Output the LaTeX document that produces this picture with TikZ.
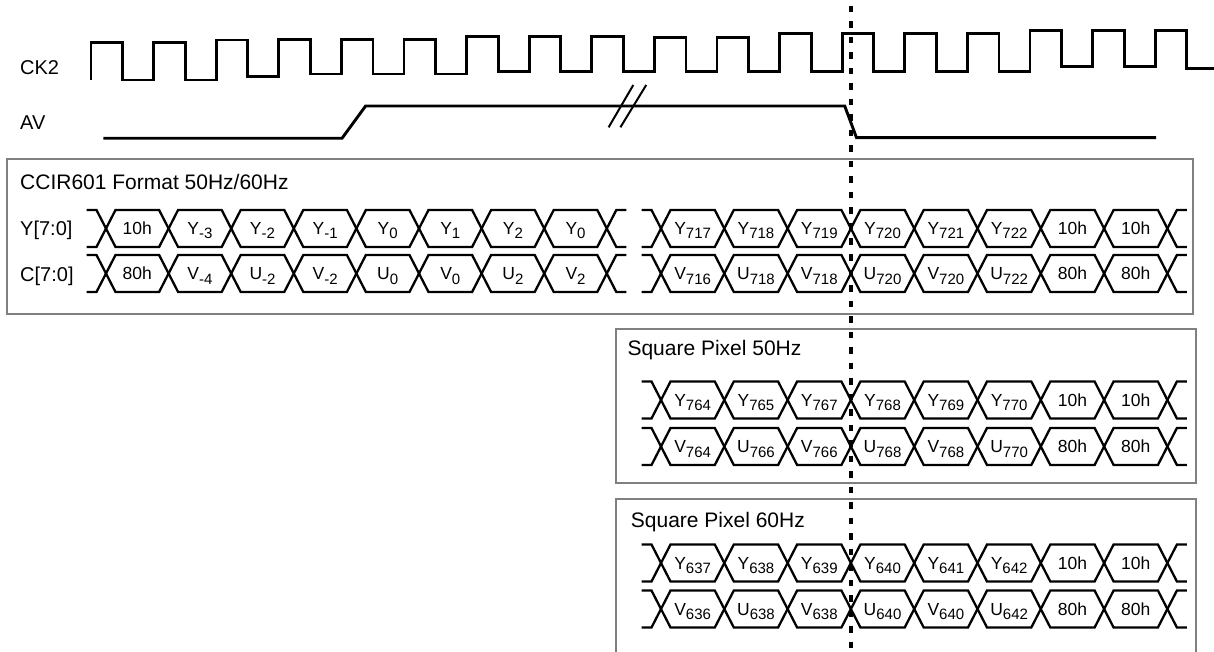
\documentclass[tikz,border=0pt]{standalone}
\usepackage{fontspec}
\setmainfont{Liberation Sans}
\definecolor{boxgray}{RGB}{128,128,128}

% lowered index inside a bus cell
\newcommand{\ix}[1]{\raisebox{-4.5pt}{\fontsize{15}{15}\selectfont #1}}

% one bus row of eight cells: [period]{name}{first crossing x}{centre y}{cell texts}
\newcommand{\busrow}[5][63.3]{%
  \draw[bus] ({#3-19.5},{#4-18.5}) -- ({#3-9.5},{#4-18.5}) -- (#3,#4)
             -- ({#3-9.5},{#4+18.5}) -- ({#3-19.5},{#4+18.5});
  \foreach \txt [count=\k from 0] in {#5} {
    \pgfmathsetmacro{\xa}{#3+#1*\k}
    \pgfmathsetmacro{\xb}{\xa+#1}
    \draw[bus] (\xa,#4) -- ({\xa+9.5},{#4-18.5}) -- ({\xb-9.5},{#4-18.5}) -- (\xb,#4)
               -- ({\xb-9.5},{#4+18.5}) -- ({\xa+9.5},{#4+18.5}) -- cycle;
    \node[cell] (#2\k) at ({(\xa+\xb)/2},{#4+6}) {\txt};
  }
  \pgfmathsetmacro{\xe}{#3+8*#1}
  \draw[bus] ({\xe+19.5},{#4-18.5}) -- ({\xe+9.5},{#4-18.5}) -- (\xe,#4)
             -- ({\xe+9.5},{#4+18.5}) -- ({\xe+19.5},{#4+18.5});
}

\begin{document}
\begin{tikzpicture}[x=1pt, y=-1pt,
    wave/.style={line width=2.9pt, line join=miter},
    bus/.style={line width=2.3pt, line join=miter},
    frame/.style={draw=boxgray, line width=2pt},
    sig/.style={font=\fontsize{20}{24}\selectfont, anchor=base west, inner sep=0pt},
    title/.style={font=\fontsize{21}{25}\selectfont, anchor=base west, inner sep=0pt},
    cell/.style={font=\fontsize{17.5}{20}\selectfont, anchor=base, inner sep=0pt}]
  \useasboundingbox (0,0) rectangle (1214,652);

  % clock and active video
  \node[sig] (ck) at (20,75) {CK2};
  \draw[wave] (91,80) foreach \i/\hi/\lo in {0/42.7/80, 1/42.7/80, 2/40/76.7, 3/39.3/74,
      4/39.3/74, 5/39.3/74, 6/36.7/71.7, 7/36.7/71.7, 8/36.7/71.7, 9/37.3/71.7,
      10/37.3/71.7, 11/33.3/71.7, 12/33.3/71.7, 13/33.3/71.7, 14/33.3/71.7,
      15/30.7/66.7, 16/30.7/66.7, 17/30.7/68.3}
    { -- ({91+62.6*\i},\hi) -- ({122.6+62.6*\i},\hi) -- ({122.6+62.6*\i},\lo) -- ({153.6+62.6*\i},\lo) };
  \node[sig] (av) at (20,130) {AV};
  \draw[wave] (103.3,138.3) -- (342,138.3) -- (365.6,106) -- (844.7,106)
    -- (856.5,137.7) -- (1156,137.7);
  \draw[line width=2pt] (608.6,127.3) -- (633.3,85) (620.4,127.3) -- (646.2,85);

  % CCIR601
  \draw[frame] (7.3,159.3) rectangle (1193,314);
  \node[title] (ccir) at (20,189.3) {CCIR601 Format 50Hz/60Hz};
  \node[sig] (ylab) at (20,236) {Y[7:0]};
  \node[sig] (clab) at (20,281) {C[7:0]};
  \busrow[62.6]{ya}{106}{228.5}{10h, Y\ix{-3}, Y\ix{-2}, Y\ix{-1}, Y\ix{0}, Y\ix{1}, Y\ix{2}, Y\ix{0}}
  \busrow{yb}{661}{228.5}{Y\ix{717}, Y\ix{718}, Y\ix{719}, Y\ix{720}, Y\ix{721}, Y\ix{722}, 10h, 10h}
  \busrow[62.6]{ca}{106}{273.5}{80h, V\ix{-4}, U\ix{-2}, V\ix{-2}, U\ix{0}, V\ix{0}, U\ix{2}, V\ix{2}}
  \busrow{cb}{661}{273.5}{V\ix{716}, U\ix{718}, V\ix{718}, U\ix{720}, V\ix{720}, U\ix{722}, 80h, 80h}

  % square pixel 50Hz
  \draw[frame] (615.5,329) rectangle (1196,483.3);
  \node[title] (sq50) at (627.3,355.5) {Square Pixel 50Hz};
  \busrow{yc}{661}{400}{Y\ix{764}, Y\ix{765}, Y\ix{767}, Y\ix{768}, Y\ix{769}, Y\ix{770}, 10h, 10h}
  \busrow{cc}{661}{446.5}{V\ix{764}, U\ix{766}, V\ix{766}, U\ix{768}, V\ix{768}, U\ix{770}, 80h, 80h}

  % square pixel 60Hz
  \draw[frame] (615.5,660) -- (615.5,498.5) -- (1196,498.5) -- (1196,660);
  \node[title] (sq60) at (630.7,527.3) {Square Pixel 60Hz};
  \busrow{yd}{661}{563}{Y\ix{637}, Y\ix{638}, Y\ix{639}, Y\ix{640}, Y\ix{641}, Y\ix{642}, 10h, 10h}
  \busrow{cd}{661}{609}{V\ix{636}, U\ix{638}, V\ix{638}, U\ix{640}, V\ix{640}, U\ix{642}, 80h, 80h}

  % reference instant
  \draw[line width=3.2pt, dash pattern=on 6.5pt off 9pt] (851,6) -- (851,652);
\end{tikzpicture}
\end{document}
